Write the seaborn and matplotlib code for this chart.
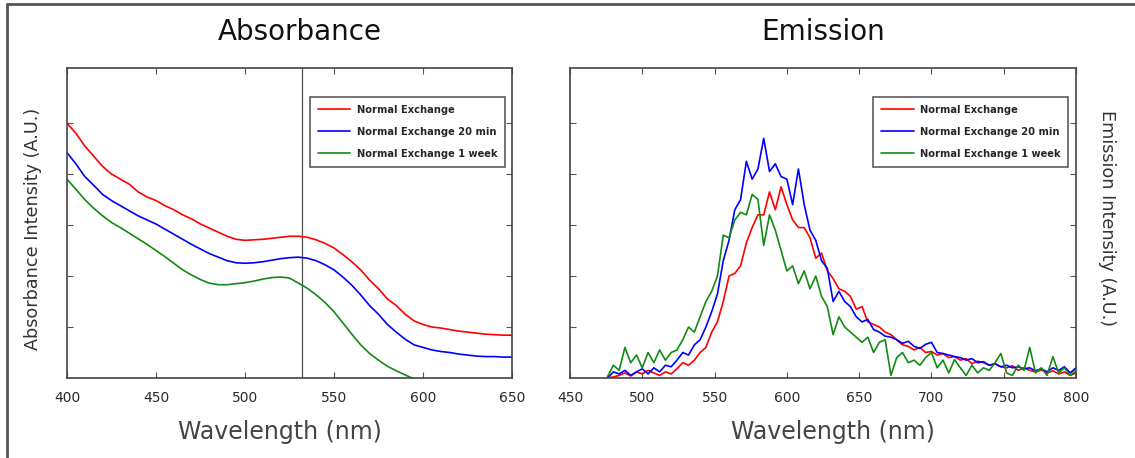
import numpy as np
import pandas as pd
import seaborn as sns
import matplotlib
matplotlib.use("Agg")
import matplotlib.pyplot as plt
from matplotlib.lines import Line2D

# ---------------- data ----------------
series_names = ["Normal Exchange", "Normal Exchange 20 min", "Normal Exchange 1 week"]
series_colors = ["#ff0000", "#0000ff", "#138a13"]

abs_wavelength = list(range(400, 651, 5))
abs_red = [5.0, 4.8, 4.55, 4.35, 4.15, 4.0, 3.9, 3.8, 3.65, 3.55, 3.48, 3.38, 3.3, 3.2,
           3.12, 3.02, 2.94, 2.86, 2.78, 2.72, 2.7, 2.71, 2.72, 2.74, 2.76, 2.78, 2.78,
           2.76, 2.71, 2.64, 2.55, 2.42, 2.28, 2.12, 1.92, 1.75, 1.55, 1.42, 1.25, 1.12,
           1.05, 1.0, 0.98, 0.95, 0.92, 0.9, 0.88, 0.86, 0.85, 0.84, 0.84]
abs_blue = [4.42, 4.2, 3.95, 3.78, 3.6, 3.48, 3.38, 3.28, 3.18, 3.1, 3.02, 2.92, 2.82, 2.72,
            2.62, 2.53, 2.44, 2.37, 2.3, 2.26, 2.25, 2.26, 2.28, 2.31, 2.34, 2.36, 2.37,
            2.35, 2.3, 2.22, 2.12, 1.98, 1.82, 1.63, 1.42, 1.25, 1.05, 0.9, 0.76, 0.65,
            0.6, 0.55, 0.52, 0.5, 0.47, 0.45, 0.43, 0.42, 0.42, 0.41, 0.41]
abs_green = [3.9, 3.7, 3.5, 3.33, 3.18, 3.05, 2.95, 2.84, 2.73, 2.62, 2.5, 2.38, 2.25, 2.12,
             2.02, 1.93, 1.86, 1.83, 1.83, 1.85, 1.87, 1.9, 1.94, 1.97, 1.98, 1.96, 1.86,
             1.76, 1.63, 1.48, 1.3, 1.08, 0.86, 0.65, 0.48, 0.35, 0.23, 0.14, 0.06, -0.02,
             -0.08, -0.14, -0.2, -0.25, -0.3, -0.34, -0.38, -0.41, -0.44, -0.46, -0.48]
laser_line = 532

em_wavelength = list(range(476, 801, 4))
em_red = [0.0, 0.02, 0.05, 0.1, 0.04, 0.12, 0.08, 0.15, 0.1, 0.05, 0.12, 0.08, 0.18, 0.3,
          0.25, 0.35, 0.5, 0.6, 0.9, 1.1, 1.5, 2.0, 2.05, 2.2, 2.65, 2.95, 3.2, 3.2, 3.65,
          3.3, 3.75, 3.4, 3.1, 2.95, 2.95, 2.75, 2.35, 2.45, 2.1, 1.95, 1.75, 1.7, 1.6, 1.35,
          1.4, 1.1, 1.05, 1.0, 0.9, 0.85, 0.75, 0.65, 0.62, 0.55, 0.6, 0.5, 0.52, 0.45, 0.48,
          0.4, 0.42, 0.35, 0.38, 0.28, 0.33, 0.3, 0.25, 0.28, 0.22, 0.2, 0.24, 0.15, 0.2,
          0.15, 0.12, 0.16, 0.1, 0.14, 0.08, 0.12, 0.05, 0.1]
em_blue = [0.0, 0.12, 0.08, 0.15, 0.05, 0.12, 0.18, 0.08, 0.2, 0.12, 0.25, 0.22, 0.35, 0.5,
           0.45, 0.65, 0.75, 1.0, 1.3, 1.65, 2.3, 2.7, 3.3, 3.5, 4.25, 3.9, 4.1, 4.7, 4.05,
           4.2, 3.95, 3.9, 3.4, 4.1, 3.4, 2.9, 2.7, 2.3, 2.15, 1.5, 1.7, 1.5, 1.4, 1.2, 1.1,
           1.15, 0.95, 0.9, 0.82, 0.8, 0.75, 0.68, 0.72, 0.62, 0.58, 0.66, 0.7, 0.5, 0.48,
           0.45, 0.42, 0.4, 0.35, 0.38, 0.3, 0.32, 0.25, 0.28, 0.22, 0.25, 0.2, 0.22, 0.18,
           0.2, 0.14, 0.18, 0.12, 0.2, 0.15, 0.22, 0.1, 0.2]
em_green = [0.03, 0.25, 0.15, 0.6, 0.3, 0.45, 0.2, 0.5, 0.3, 0.55, 0.35, 0.5, 0.55, 0.75,
            1.0, 0.9, 1.2, 1.5, 1.7, 2.0, 2.8, 2.75, 3.1, 3.25, 3.2, 3.6, 3.5, 2.6, 3.2, 2.9,
            2.5, 2.1, 2.2, 1.85, 2.1, 1.75, 2.0, 1.6, 1.4, 0.85, 1.2, 1.0, 0.9, 0.8, 0.7, 0.8,
            0.5, 0.7, 0.75, 0.05, 0.4, 0.5, 0.3, 0.35, 0.25, 0.4, 0.5, 0.2, 0.35, 0.1, 0.36,
            0.2, 0.05, 0.25, 0.1, 0.2, 0.15, 0.3, 0.48, 0.1, 0.05, 0.25, 0.15, 0.6, 0.1, 0.2,
            0.05, 0.42, 0.1, 0.2, 0.05, 0.15]

abs_xticks = [400, 450, 500, 550, 600, 650]
em_xticks = [450, 500, 550, 600, 650, 700, 750, 800]
y_ticks = [1, 2, 3, 4, 5]

# ---------------- frames ----------------
abs_df = pd.DataFrame({
    "wavelength": abs_wavelength * 3,
    "value": abs_red + abs_blue + abs_green,
    "series": sum([[n] * len(abs_wavelength) for n in series_names], []),
})
em_df = pd.DataFrame({
    "wavelength": em_wavelength * 3,
    "value": em_red + em_blue + em_green,
    "series": sum([[n] * len(em_wavelength) for n in series_names], []),
})

sns.set_style("white")
plt.rcParams["font.family"] = ["DejaVu Sans"]

fig = plt.figure(figsize=(11.35, 4.58), dpi=100)
W, H = 1135, 458
ax1 = fig.add_axes([67 / W, 1 - 378 / H, (512 - 67) / W, (378 - 68) / H])
ax2 = fig.add_axes([570 / W, 1 - 378 / H, (1076 - 570) / W, (378 - 68) / H])

palette = dict(zip(series_names, series_colors))

sns.lineplot(data=abs_df, x="wavelength", y="value", hue="series", palette=palette,
             hue_order=series_names, ax=ax1, linewidth=1.2, legend=False, sort=False)
sns.lineplot(data=em_df, x="wavelength", y="value", hue="series", palette=palette,
             hue_order=series_names, ax=ax2, linewidth=1.2, legend=False, sort=False)

ax1.axvline(laser_line, color="#555555", linewidth=0.9, zorder=0)

legend_font = {"family": ["DejaVu Sans"], "size": 7.9, "weight": "bold",
               "stretch": "condensed"}
for ax, xticks, xlim, title, tx, lx in [(ax1, abs_xticks, (400, 650), "Absorbance", 0.524, 0.4775),
                                        (ax2, em_xticks, (450, 800), "Emission", 0.5, 0.52)]:
    ax.set_xlim(*xlim)
    ax.set_ylim(0, 6.08)
    ax.set_xticks(xticks)
    ax.set_yticks(y_ticks)
    ax.set_yticklabels([])
    ax.tick_params(direction="in", length=4, width=0.8, top=True, right=True,
                   bottom=True, left=True, colors="#555555", labelcolor="#2a2a2a",
                   labelsize=10, pad=9)
    for sp in ax.spines.values():
        sp.set_color("#444444")
        sp.set_linewidth(1.2)
    ax.set_xlabel("Wavelength (nm)", fontsize=17, color="#444444", labelpad=9)
    ax.xaxis.set_label_coords(lx, -0.135)
    ax.set_ylabel("")
    ax.set_title(title, fontsize=20, color="#111111", pad=20, x=tx)
    handles = [Line2D([0], [0], color=c, linewidth=1.2) for c in series_colors]
    leg = ax.legend(handles, series_names, loc="upper right",
                    bbox_to_anchor=(0.985, 0.905), prop=legend_font, frameon=True,
                    fancybox=False, edgecolor="#333333", handlelength=3.0,
                    borderpad=0.7, labelspacing=1.1, handletextpad=0.6,
                    borderaxespad=0)
    leg.get_frame().set_linewidth(1.2)

ax1.set_ylabel("Absorbance Intensity (A.U.)", fontsize=12.7, color="#333333")
ax1.yaxis.set_label_coords(-0.0565, 0.48)
fig.text(1107 / W, 1 - 218 / H, "Emission Intensity (A.U.)", rotation=270,
         fontsize=12.7, color="#333333", ha="center", va="center")

# outer frame (top and left edges)
fig.add_artist(Line2D([7 / W, 1.0], [1 - 4 / H, 1 - 4 / H], color="#555555",
                      linewidth=2, transform=fig.transFigure))
fig.add_artist(Line2D([7 / W, 7 / W], [0, 1 - 4 / H], color="#555555",
                      linewidth=2, transform=fig.transFigure))

fig.savefig("out.png", dpi=100, facecolor="white")
